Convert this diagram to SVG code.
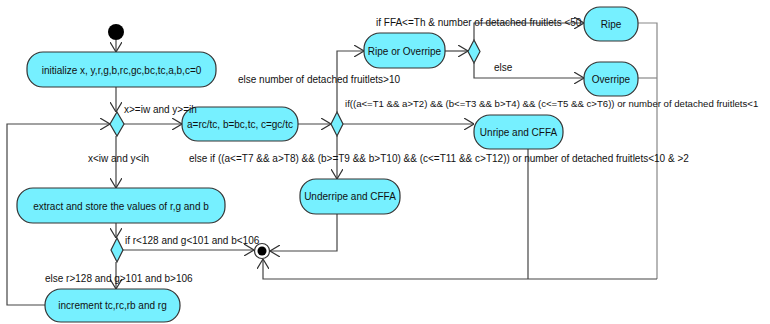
<svg xmlns="http://www.w3.org/2000/svg" width="770" height="324" viewBox="0 0 770 324">
<style>
.n{fill:#76f0ff;stroke:#333;stroke-width:1.2}
.t{font-family:"Liberation Sans",Arial,sans-serif;font-size:10px;fill:#111}
.m{text-anchor:middle}
.c path,.c polyline{fill:none;stroke:#444;stroke-width:1.2}
</style>
<defs>
<marker id="a" markerUnits="userSpaceOnUse" viewBox="0 0 10 12" refX="10" refY="6" markerWidth="10" markerHeight="12" orient="auto">
<path d="M0,0 L10,6 L0,12" fill="none" stroke="#333" stroke-width="1.2"/>
</marker>
</defs>
<rect width="770" height="324" fill="#fff"/>
<g class="c" id="connectors">
<path d="M116,40 V52" marker-end="url(#a)"/>
<path d="M116,87 V112" marker-end="url(#a)"/>
<path d="M124,124 H182" marker-end="url(#a)"/>
<polyline points="45,305 7,305 7,124 110,124" marker-end="url(#a)"/>
<path d="M116,136 V188" marker-end="url(#a)"/>
<path d="M116,223 V238" marker-end="url(#a)"/>
<path d="M123,250 H254" marker-end="url(#a)"/>
<path d="M116,262 V289" marker-end="url(#a)"/>
<path d="M298,124 H331" marker-end="url(#a)"/>
<polyline points="337,112 337,51 364,51" marker-end="url(#a)"/>
<path d="M343,124 H474" marker-end="url(#a)"/>
<path d="M337,136 V179" marker-end="url(#a)"/>
<polyline points="337,214 337,251 270,251" marker-end="url(#a)"/>
<path d="M445,51 H468" marker-end="url(#a)"/>
<polyline points="474,40 474,23 584,23" marker-end="url(#a)"/>
<polyline points="474,63 474,78 584,78" marker-end="url(#a)"/>
<polyline points="638,23 657,23 657,279" style="stroke:#888"/>
<path d="M638,78 H657" style="stroke:#888"/>
<polyline points="657,279 263,279 263,259" marker-end="url(#a)"/>
<path d="M528,149 V279"/>
</g>
<g id="start"><circle cx="116" cy="32" r="8" fill="#000"/></g>
<g id="init"><rect class="n" x="27" y="52" width="189" height="35" rx="16"/><text class="t m" x="121.5" y="73.5">initialize x, y,r,g,b,rc,gc,bc,tc,a,b,c=0</text></g>
<g id="d1"><polygon class="n" points="117,112 124,124 117,136 110,124"/></g>
<g id="calc"><rect class="n" x="182" y="107" width="116" height="34" rx="16"/><text class="t m" x="240" y="127.5">a=rc/tc, b=bc,tc, c=gc/tc</text></g>
<g id="extract"><rect class="n" x="17" y="188" width="208" height="35" rx="16"/><text class="t m" x="121" y="209.5">extract and store the values of r,g and b</text></g>
<g id="d2"><polygon class="n" points="117,238 123,250 117,262 111,250"/></g>
<g id="increment"><rect class="n" x="45" y="289" width="135" height="33" rx="16"/><text class="t m" x="112.5" y="309">increment tc,rc,rb and rg</text></g>
<g id="d3"><polygon class="n" points="337,112 343,124 337,136 331,124"/></g>
<g id="rorov"><rect class="n" x="364" y="33" width="81" height="35" rx="16"/><text class="t m" x="404.5" y="54.5">Ripe or Overripe</text></g>
<g id="d4"><polygon class="n" points="474,40 480,51.5 474,63 468,51.5"/></g>
<g id="ripe"><rect class="n" x="584" y="7" width="54" height="34" rx="16"/><text class="t m" x="611" y="27.5">Ripe</text></g>
<g id="overripe"><rect class="n" x="584" y="62" width="54" height="34" rx="16"/><text class="t m" x="611" y="82.5">Overripe</text></g>
<g id="unripe"><rect class="n" x="474" y="115" width="89" height="34" rx="16"/><text class="t m" x="518.5" y="135.5">Unripe and CFFA</text></g>
<g id="underripe"><rect class="n" x="300" y="179" width="100" height="35" rx="16"/><text class="t m" x="350" y="200">Underripe and CFFA</text></g>
<g id="end"><circle cx="262" cy="251" r="7.5" fill="#fff" stroke="#333" stroke-width="1.2"/><circle cx="262" cy="251" r="4.5" fill="#000"/></g>
<g id="labels">
<text class="t" x="124" y="112.5">x&gt;=iw and y&gt;=ih</text>
<text class="t" x="88" y="161.5">x&lt;iw and y&lt;ih</text>
<text class="t" x="125" y="243.5">if r&lt;128 and g&lt;101 and b&lt;106</text>
<text class="t" x="45" y="281.5">else r&gt;128 and g&gt;101 and b&gt;106</text>
<text class="t" x="238" y="82.5">else number of detached fruitlets&gt;10</text>
<text class="t" x="376" y="25.5">if FFA&lt;=Th &amp; number of detached fruitlets &lt;50</text>
<text class="t" x="494" y="70.5">else</text>
<text class="t" x="345" y="106.5" style="font-size:9.6px">if((a&lt;=T1 &amp;&amp; a&gt;T2) &amp;&amp; (b&lt;=T3 &amp;&amp; b&gt;T4) &amp;&amp; (c&lt;=T5 &amp;&amp; c&gt;T6)) or number of detached fruitlets&lt;1</text>
<text class="t" x="189" y="161.5">else if ((a&lt;=T7 &amp;&amp; a&gt;T8) &amp;&amp; (b&gt;=T9 &amp;&amp; b&gt;T10) &amp;&amp; (c&lt;=T11 &amp;&amp; c&gt;T12)) or number of detached fruitlets&lt;10 &amp; &gt;2</text>
</g>
</svg>
